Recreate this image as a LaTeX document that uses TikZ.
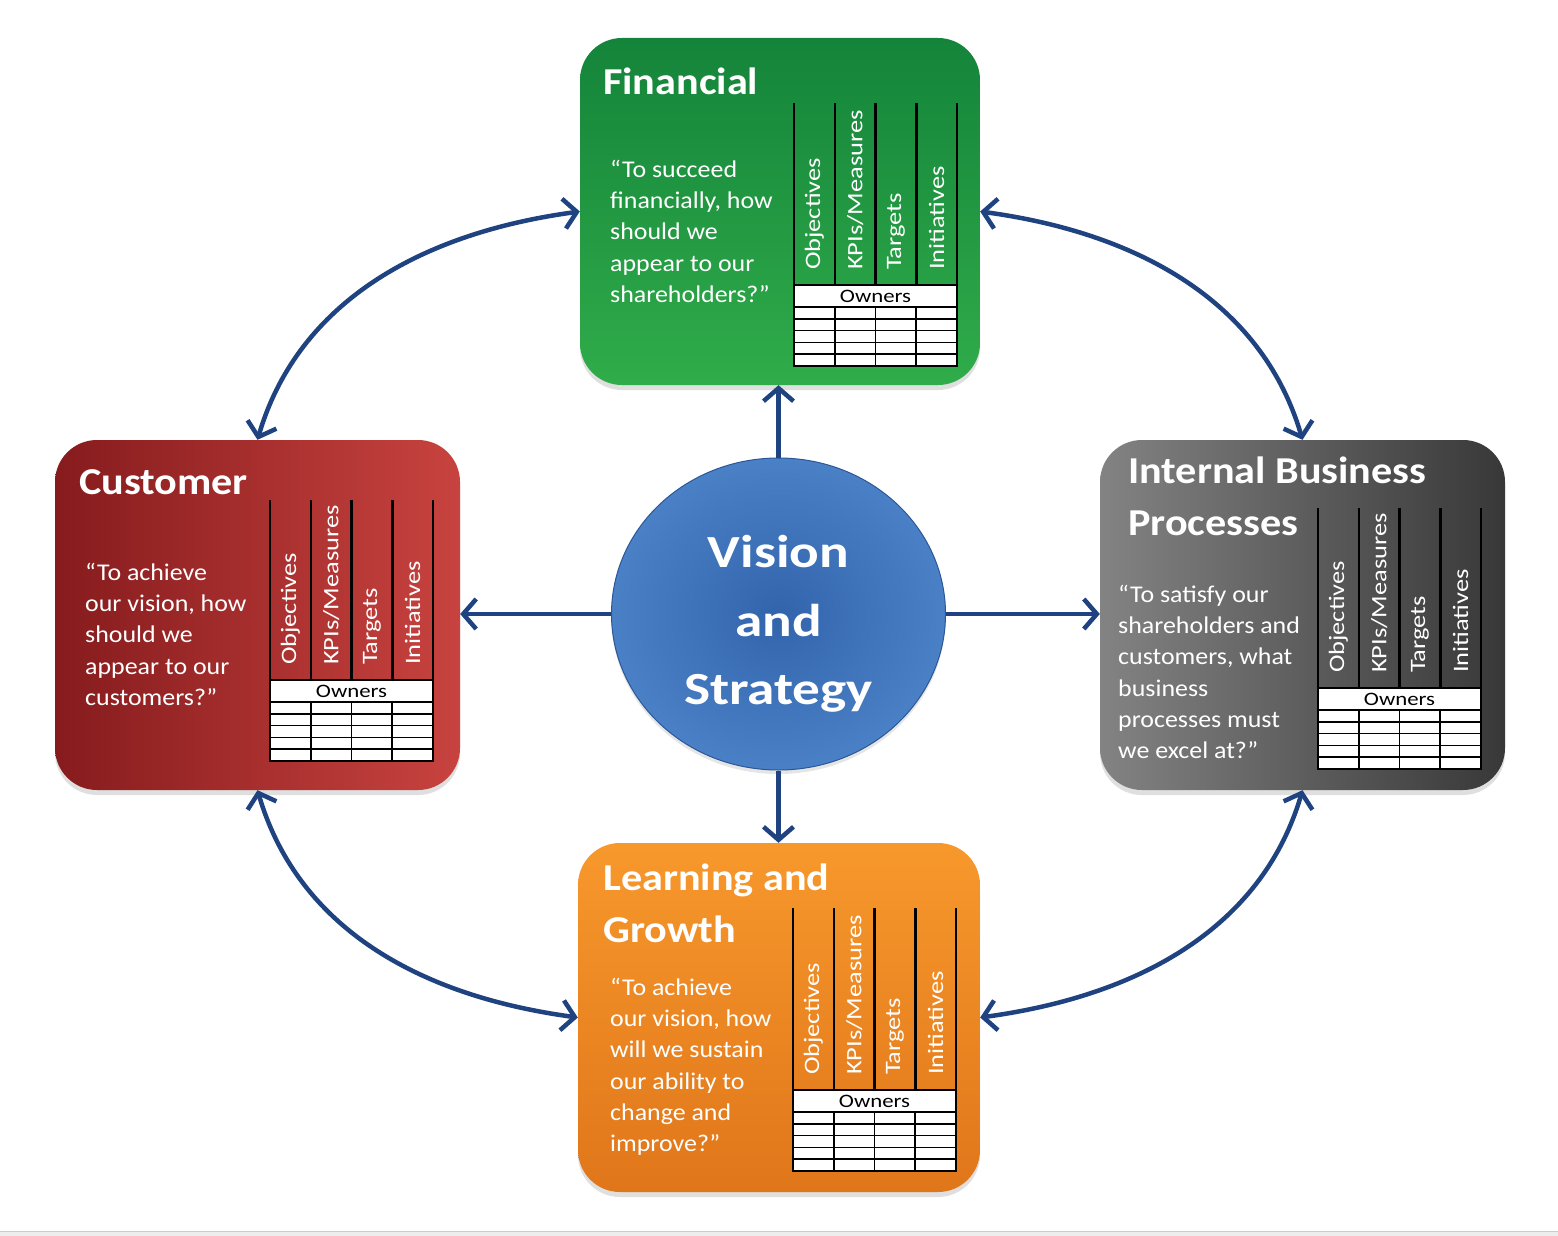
\documentclass[tikz,border=0pt]{standalone}
\usepackage{fontspec}
\setmainfont{Carlito}
\newfontfamily\ttlfont{Carlito}[FakeStretch=1.11]
\newfontfamily\quofont{Carlito}[FakeStretch=1.08]
\newfontfamily\labfont{Carlito}[FakeStretch=1.2]
\newfontfamily\visfont{Carlito}[FakeStretch=1.2]
\usetikzlibrary{arrows.meta,shapes.geometric,shadows}
\definecolor{arr}{HTML}{1F4280}
\definecolor{finA}{HTML}{14843A}
\definecolor{finB}{HTML}{30AC4A}
\definecolor{cusA}{HTML}{861B1D}
\definecolor{cusB}{HTML}{C8433F}
\definecolor{ibpA}{HTML}{838383}
\definecolor{ibpB}{HTML}{383838}
\definecolor{lrnA}{HTML}{F7982C}
\definecolor{lrnB}{HTML}{E0761A}
\definecolor{visA}{HTML}{3264AC}
\definecolor{visB}{HTML}{4A80C6}
\definecolor{visE}{HTML}{2B5797}
\tikzset{
  box/.style={rounded corners=42pt, inner sep=0pt,
    drop shadow={opacity=0.25, shadow xshift=0pt, shadow yshift=-5pt}},
  ttl/.style={font=\ttlfont\bfseries\fontsize{38}{52}\selectfont, text=white, inner sep=0pt, align=left},
  quote/.style={font=\quofont\fontsize{24}{31.2}\selectfont, text=white, inner sep=0pt, align=left, anchor=north west},
  collab/.style={font=\labfont\fontsize{22}{22}\selectfont, text=white, rotate=90, anchor=west, inner sep=0pt},
  owner/.style={font=\labfont\fontsize{19}{19}\selectfont, text=black, inner sep=0pt},
  tabline/.style={black, line width=1.6pt},
  tabvert/.style={black, line width=2.5pt},
  link/.style={draw=arr, line width=4.5pt, {Straight Barb[length=13pt,width=30pt]}-{Straight Barb[length=13pt,width=30pt]}},
  spoke/.style={draw=arr, line width=4.5pt, -{Straight Barb[length=13pt,width=30pt]}},
}
\newcommand\bsctab[4]{%
  \foreach \i in {0,...,4}{\draw[tabvert] ({#2+\i*40.75},#3) -- ({#2+\i*40.75},#4);}
  \filldraw[tabline, fill=white] (#2,#4) rectangle ({#2+163},{#4+81});
  \draw[tabline] (#2,{#4+22}) -- ({#2+163},{#4+22});
  \foreach \r in {1,...,4}{\draw[tabline] (#2,{#4+22+\r*11.8}) -- ({#2+163},{#4+22+\r*11.8});}
  \foreach \i in {1,2,3}{\draw[tabline] ({#2+\i*40.75},{#4+22}) -- ({#2+\i*40.75},{#4+81});}
  \node[owner] (#1-own) at ({#2+81.5},{#4+11}) {Owners};
  \node[collab] (#1-obj) at ({#2+20.4},{#4-15}) {Objectives};
  \node[collab] (#1-kpi) at ({#2+61.1},{#4-15}) {KPIs/Measures};
  \node[collab] (#1-tgt) at ({#2+101.9},{#4-15}) {Targets};
  \node[collab] (#1-ini) at ({#2+142.6},{#4-15}) {Initiatives};
}
\begin{document}
\begin{tikzpicture}[x=1pt,y=-1pt]
\useasboundingbox (0,0) rectangle (1558,1236);
\fill[white] (0,0) rectangle (1558,1236);
\fill[black!7] (0,1231) rectangle (1558,1236);
\draw[black!20, line width=1pt] (0,1231) -- (1558,1231);

% boxes
\node[box, minimum width=400pt, minimum height=347pt, top color=finA, bottom color=finB] (fin) at (780,211.5) {};
\node[box, minimum width=405pt, minimum height=350pt, left color=cusA, right color=cusB] (cust) at (257.5,615) {};
\node[box, minimum width=405pt, minimum height=350pt, left color=ibpA, right color=ibpB] (ibp) at (1302.5,615) {};
\node[box, minimum width=402pt, minimum height=349pt, top color=lrnA, bottom color=lrnB] (learn) at (779,1017.5) {};

% centre
\node[ellipse, minimum width=334pt, minimum height=312pt, inner sep=0pt, inner color=visA, outer color=visB, draw=visE, line width=1pt,
  drop shadow={opacity=0.2, shadow xshift=0pt, shadow yshift=-4pt}] (vis) at (778.5,614) {};
\node[font=\visfont\bfseries\fontsize{46}{68.5}\selectfont, text=white, align=center, inner sep=0pt] (vistxt) at (778.5,624) {Vision\\and\\Strategy};

% titles
\node[ttl, anchor=base west] (fin-t) at (603,95) {Financial};
\node[ttl, anchor=base west] (cust-t) at (79,494) {Customer};
\node[ttl, anchor=north west] (ibp-t) at (1128,457) {Internal Business\\Processes};
\node[ttl, anchor=north west] (learn-t) at (603,864) {Learning and\\Growth};

% quotes
\node[quote] (fin-q) at (610,160) {“To succeed\\financially, how\\should we\\appear to our\\shareholders?”};
\node[quote] (cust-q) at (85,563) {“To achieve\\our vision, how\\should we\\appear to our\\customers?”};
\node[quote] (ibp-q) at (1118,585) {“To satisfy our\\shareholders and\\customers, what\\business\\processes must\\we excel at?”};
\node[quote] (learn-q) at (610,978) {“To achieve\\our vision, how\\will we sustain\\our ability to\\change and\\improve?”};

% tables
\bsctab{fin}{794}{103}{285}
\bsctab{cust}{270}{500}{680}
\bsctab{ibp}{1318}{508}{688}
\bsctab{learn}{793}{908}{1090}

% spokes
\draw[spoke] (vis.north) -- (vis.north |- fin.south);
\draw[spoke] (vis.west) -- (vis.west -| cust.east);
\draw[spoke] (vis.east) -- (vis.east -| ibp.west);
\draw[spoke] (vis.south) -- (vis.south |- learn.north);

% links
\draw[link] (cust.north) .. controls +(38,-130) and +(-170,23) .. (fin.west);
\draw[link] (fin.east) .. controls +(170,23) and +(-38,-130) .. (ibp.north);
\draw[link] (cust.south) .. controls +(38,130) and +(-170,-23) .. (learn.west);
\draw[link] (learn.east) .. controls +(170,-23) and +(-38,130) .. (ibp.south);
\end{tikzpicture}
\end{document}
